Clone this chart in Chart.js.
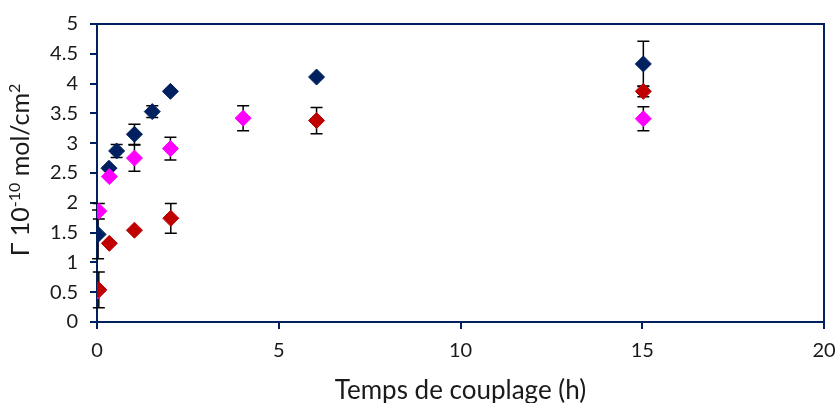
<!DOCTYPE html>
<html>
<head>
<meta charset="utf-8">
<script src="https://cdn.jsdelivr.net/npm/chart.js@4.4.1/dist/chart.umd.min.js"></script>
<style>
  html, body { margin: 0; padding: 0; background: #fff; }
  #wrap { width: 838px; height: 403px; position: relative; }
</style>
</head>
<body>
<div id="wrap"><canvas id="chart"></canvas></div>
<script>
// Data (time in h, surface coverage in 1e-10 mol/cm2)
const blueX   = [0.03, 0.33, 0.54, 1.03, 1.52, 2.02, 6.04, 15.03];
const blueY   = [1.47, 2.58, 2.87, 3.15, 3.53, 3.87, 4.11, 4.33];
const blueErr = [0.41, 0, 0.11, 0.17, 0.10, 0, 0, 0.38];

const pinkX   = [0.02, 0.05, 0.34, 1.03, 2.02, 4.02, 15.03];
const pinkY   = [0.52, 1.86, 2.44, 2.75, 2.91, 3.42, 3.41];
const pinkErr = [0, 0.13, 0, 0.22, 0.19, 0.21, 0.20];

const redX    = [0.05, 0.34, 1.03, 2.03, 6.04, 15.03];
const redY    = [0.54, 1.32, 1.54, 1.74, 3.38, 3.87];
const redErr  = [0.30, 0, 0, 0.25, 0.22, 0.09];

const xTicks = [0, 5, 10, 15, 20];
const yMin = 0, yMax = 5, yStep = 0.5;

const navy = '#002060';
const textColor = '#1a1a1a';
const fontFamily = "Lato, 'Open Sans', sans-serif";

function toPoints(xs, ys, errs) {
    return xs.map((x, i) => ({ x: x, y: ys[i], err: errs[i] }));
}

// Error bars, drawn under the markers
const errorBars = {
    id: 'errorBars',
    beforeDatasetsDraw(chart) {
        const ctx = chart.ctx;
        const xs = chart.scales.x, ys = chart.scales.y;
        ctx.save();
        ctx.strokeStyle = '#000';
        ctx.lineWidth = 1.5;
        chart.data.datasets.forEach(ds => {
            ds.data.forEach(p => {
                if (!p.err) return;
                const px = xs.getPixelForValue(p.x);
                const top = ys.getPixelForValue(p.y + p.err);
                const bot = ys.getPixelForValue(p.y - p.err);
                ctx.beginPath();
                ctx.moveTo(px, top); ctx.lineTo(px, bot);
                ctx.moveTo(px - 6, top); ctx.lineTo(px + 6, top);
                ctx.moveTo(px - 6, bot); ctx.lineTo(px + 6, bot);
                ctx.stroke();
            });
        });
        ctx.restore();
    }
};

// Top and right frame lines + rotated y title with superscripts
const frameAndTitle = {
    id: 'frameAndTitle',
    afterDraw(chart) {
        const ctx = chart.ctx;
        const a = chart.chartArea;
        ctx.save();
        ctx.strokeStyle = navy;
        ctx.lineWidth = 2;
        ctx.beginPath();
        ctx.moveTo(a.left, a.top); ctx.lineTo(a.right, a.top); ctx.lineTo(a.right, a.bottom);
        ctx.stroke();

        const big = '25px ' + fontFamily, small = '16px ' + fontFamily;
        const parts = [['Γ 10', big, 0], ['-10', small, -9], [' mol/cm', big, 0], ['2', small, -9]];
        let total = 0;
        parts.forEach(p => { ctx.font = p[1]; total += ctx.measureText(p[0]).width; });
        ctx.translate(29, 170);
        ctx.rotate(-Math.PI / 2);
        ctx.fillStyle = textColor;
        ctx.textBaseline = 'alphabetic';
        let x = -total / 2;
        parts.forEach(p => {
            ctx.font = p[1];
            ctx.fillText(p[0], x, p[2]);
            x += ctx.measureText(p[0]).width;
        });
        ctx.restore();
    }
};

new Chart(document.getElementById('chart'), {
    type: 'scatter',
    data: {
        datasets: [{
            label: 'rouge',
            data: toPoints(redX, redY, redErr),
            backgroundColor: '#C00000',
            borderColor: '#C00000'
        }, {
            label: 'magenta',
            data: toPoints(pinkX, pinkY, pinkErr),
            backgroundColor: '#FF00FF',
            borderColor: '#FF00FF'
        }, {
            label: 'bleu',
            data: toPoints(blueX, blueY, blueErr),
            backgroundColor: navy,
            borderColor: navy
        }]
    },
    options: {
        responsive: true,
        maintainAspectRatio: false,
        animation: false,
        layout: { padding: { left: 0, right: 14, top: 21, bottom: 0 } },
        elements: {
            point: { pointStyle: 'rectRot', radius: 8, hoverRadius: 8, borderWidth: 1 }
        },
        plugins: {
            legend: { display: false },
            tooltip: { enabled: false }
        },
        scales: {
            x: {
                type: 'linear',
                min: xTicks[0],
                max: xTicks[xTicks.length - 1],
                afterBuildTicks(scale) { scale.ticks = xTicks.map(v => ({ value: v })); },
                afterFit(scale) {
                    scale.height = 81;
                    scale.paddingLeft = 0;
                    scale.paddingRight = 0;
                },
                grid: { drawOnChartArea: false, color: navy, lineWidth: 2, tickLength: 7 },
                border: { color: navy, width: 2 },
                ticks: { color: textColor, font: { family: fontFamily, size: 20 }, padding: 10 },
                title: {
                    display: true,
                    text: 'Temps de couplage (h)',
                    color: textColor,
                    font: { family: fontFamily, size: 26 },
                    padding: { top: 0, bottom: -3 }
                }
            },
            y: {
                min: yMin,
                max: yMax,
                afterFit(scale) { scale.width = 97; },
                grid: { drawOnChartArea: false, color: navy, lineWidth: 2, tickLength: 7 },
                border: { color: navy, width: 2 },
                ticks: {
                    stepSize: yStep,
                    color: textColor,
                    font: { family: fontFamily, size: 20 },
                    padding: 12,
                    callback: v => String(v)
                }
            }
        }
    },
    plugins: [errorBars, frameAndTitle]
});
</script>
</body>
</html>
